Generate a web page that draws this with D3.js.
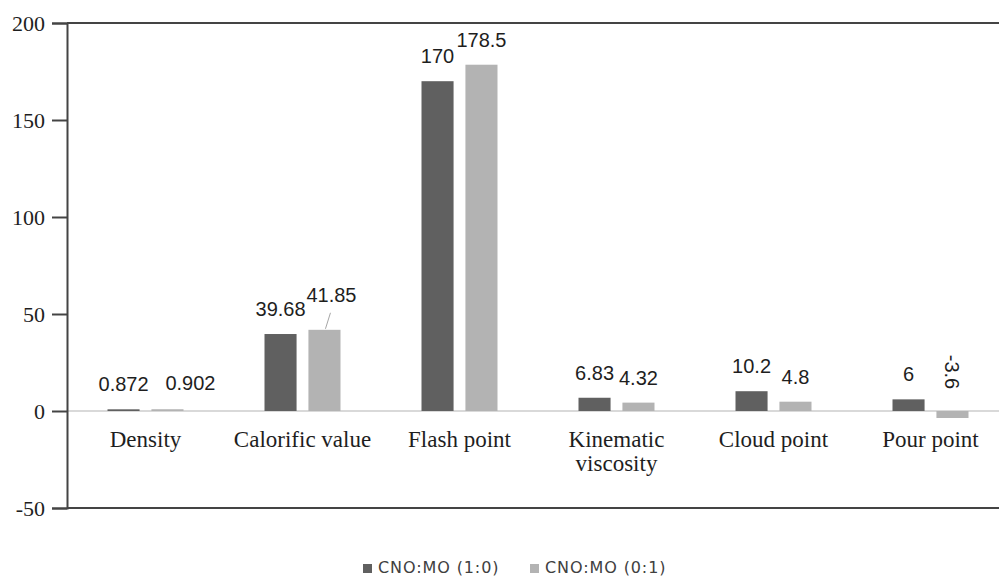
<!DOCTYPE html>
<html>
<head>
<meta charset="utf-8">
<script src="https://cdn.jsdelivr.net/npm/d3@7"></script>
<style>
  body { margin: 0; background: #fff; }
  svg { display: block; }
</style>
</head>
<body>
<div id="chart"></div>
<script>
// values
const categories = ["Density", "Calorific value", "Flash point", "Kinematic viscosity", "Cloud point", "Pour point"];
const seriesNames = ["CNO:MO (1:0)", "CNO:MO (0:1)"];
const cnoValues = [0.872, 39.68, 170, 6.83, 10.2, 6];
const moValues = [0.902, 41.85, 178.5, 4.32, 4.8, -3.6];
const yTicks = [-50, 0, 50, 100, 150, 200];
const colors = ["#606060", "#b3b3b3"];

const W = 999, H = 581;
const plotLeft = 67, plotTop = 23, plotBottom = 508;

const svg = d3.select("#chart").append("svg")
    .attr("width", W).attr("height", H);

const y = d3.scaleLinear().domain([-50, 200]).range([plotBottom, plotTop]);
const x0 = d3.scaleBand().domain(categories).range([plotLeft, plotLeft + 6 * 157]);
const x1 = d3.scaleBand().domain(seriesNames).range([0, 76]).paddingInner(0.27);

const data = categories.map((c, i) => ({cat: c, vals: [cnoValues[i], moValues[i]]}));

// zero line
svg.append("line")
    .attr("x1", plotLeft).attr("x2", W)
    .attr("y1", y(0)).attr("y2", y(0))
    .attr("stroke", "#d9d9d9").attr("stroke-width", 2);

// top and bottom frame lines
[200, -50].forEach(v => {
    svg.append("line")
        .attr("x1", plotLeft).attr("x2", W)
        .attr("y1", y(v)).attr("y2", y(v))
        .attr("stroke", "#444").attr("stroke-width", 2);
});

// y axis
const yAxis = svg.append("g")
    .attr("transform", `translate(${plotLeft},0)`)
    .call(d3.axisLeft(y).tickValues(yTicks).tickSize(15).tickPadding(7).tickFormat(d => String(d)));
yAxis.select(".domain").attr("stroke", "#444").attr("stroke-width", 2);
yAxis.selectAll(".tick line").attr("stroke", "#444").attr("stroke-width", 2);
yAxis.selectAll(".tick text")
    .attr("font-family", "'Liberation Serif', 'Times New Roman', serif")
    .attr("font-size", 22).attr("fill", "#1e1e1e");

// bars
const groups = svg.selectAll("g.grp").data(data).join("g")
    .attr("class", "grp")
    .attr("transform", d => `translate(${x0(d.cat) + x0.bandwidth() / 2 - 38},0)`);

groups.selectAll("rect").data(d => d.vals.map((v, j) => ({v, s: seriesNames[j], j})))
    .join("rect")
    .attr("x", d => x1(d.s))
    .attr("width", x1.bandwidth())
    .attr("y", d => y(Math.max(0, d.v)))
    .attr("height", d => Math.max(1.5, Math.abs(y(d.v) - y(0))))
    .attr("fill", d => colors[d.j]);

// value labels
const labelFont = "'Liberation Sans', 'Open Sans', Arial, sans-serif";
groups.each(function(d) {
    const g = d3.select(this);
    d.vals.forEach((v, j) => {
        const cx = x1(seriesNames[j]) + x1.bandwidth() / 2;
        const t = g.append("text")
            .attr("font-family", labelFont)
            .attr("font-size", 20)
            .attr("fill", "#1e1e1e")
            .attr("text-anchor", "middle")
            .text(v);
        if (v < 0) {
            t.attr("transform", `translate(${cx},${y(0) - 39}) rotate(90)`)
                .attr("dy", "0.35em");
        } else if (d.cat === "Calorific value" && j === 1) {
            // label lifted with a leader line
            t.attr("x", cx + 7).attr("y", y(v) - 28);
            g.append("line")
                .attr("x1", cx + 6).attr("y1", y(v) - 17)
                .attr("x2", cx + 1).attr("y2", y(v) - 1)
                .attr("stroke", "#a6a6a6").attr("stroke-width", 1);
        } else if (d.cat === "Density" && j === 1) {
            t.attr("x", cx + 23).attr("y", y(v) - 19);
        } else {
            t.attr("x", cx).attr("y", y(v) - 18);
        }
    });
});

// category labels
const catFont = "'Liberation Serif', 'Times New Roman', serif";
categories.forEach(c => {
    const cx = x0(c) + x0.bandwidth() / 2;
    const words = c === "Kinematic viscosity" ? ["Kinematic", "viscosity"] : [c];
    words.forEach((w, k) => {
        svg.append("text")
            .attr("x", cx).attr("y", 447 + k * 24)
            .attr("text-anchor", "middle")
            .attr("font-family", catFont)
            .attr("font-size", 23)
            .attr("fill", "#1e1e1e")
            .text(w);
    });
});

// legend
const legend = svg.append("g").attr("transform", "translate(0,568)");
const legX = [363, 530];
seriesNames.forEach((s, i) => {
    legend.append("rect")
        .attr("x", legX[i]).attr("y", -4)
        .attr("width", 9).attr("height", 9)
        .attr("fill", colors[i]);
    legend.append("text")
        .attr("x", legX[i] + 15).attr("y", 5)
        .attr("font-family", "'DejaVu Sans', sans-serif")
        .attr("font-size", 16)
        .attr("letter-spacing", 0.9)
        .attr("fill", "#404040")
        .text(s);
});
</script>
</body>
</html>
